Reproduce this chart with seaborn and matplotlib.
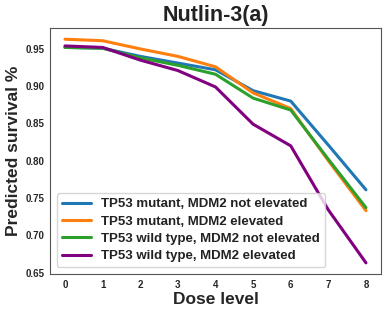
import numpy as np
import pandas as pd
import seaborn as sns
import matplotlib
matplotlib.use("Agg")
import matplotlib.pyplot as plt

doses = [0, 1, 2, 3, 4, 5, 6, 7, 8]
mut_not_elev = [0.952, 0.951, 0.940, 0.931, 0.922, 0.894, 0.880, 0.821, 0.761]
mut_elev = [0.963, 0.961, 0.950, 0.940, 0.926, 0.891, 0.870, 0.800, 0.733]
wt_not_elev = [0.952, 0.951, 0.938, 0.928, 0.916, 0.884, 0.868, 0.802, 0.737]
wt_elev = [0.954, 0.952, 0.935, 0.921, 0.899, 0.849, 0.820, 0.734, 0.663]

labels = ["TP53 mutant, MDM2 not elevated",
          "TP53 mutant, MDM2 elevated",
          "TP53 wild type, MDM2 not elevated",
          "TP53 wild type, MDM2 elevated"]
colors = ["#1f77b4", "#ff7f0e", "#2ca02c", "purple"]

frames = []
for lab, vals in zip(labels, [mut_not_elev, mut_elev, wt_not_elev, wt_elev]):
    frames.append(pd.DataFrame({"dose": doses, "surv": vals, "group": lab}))
df = pd.concat(frames, ignore_index=True)

sns.set_style("white")
plt.rcParams["font.family"] = ["Liberation Sans", "DejaVu Sans"]
plt.rcParams["text.color"] = "#222222"
fig = plt.figure(figsize=(3.9, 3.15), dpi=100)
ax = fig.add_axes([0.128, 0.13, 0.849, 0.781])

sns.lineplot(data=df, x="dose", y="surv", hue="group", hue_order=labels,
             palette=colors, linewidth=2.2, ax=ax)

ax.set_title("Nutlin-3(a)", fontsize=15.5, fontweight="bold", pad=5)
ax.set_xlabel("Dose level", fontsize=12.5, fontweight="bold", labelpad=2)
ax.set_ylabel("Predicted survival %", fontsize=12.5, fontweight="bold", labelpad=3)
ax.set_xticks(doses)
ax.set_yticks([0.65, 0.70, 0.75, 0.80, 0.85, 0.90, 0.95])
for t in ax.get_xticklabels() + ax.get_yticklabels():
    t.set_fontsize(7)
    t.set_fontweight("bold")
ax.tick_params(axis="both", length=0, pad=4)
for s in ax.spines.values():
    s.set_color("#555555")

leg = ax.legend(loc="lower left", prop={"weight": "bold", "size": 9.5},
                handlelength=2.2, labelspacing=0.38, borderaxespad=0.5)
for l in leg.get_lines():
    l.set_linewidth(2.2)

fig.savefig("out.png", dpi=100)
